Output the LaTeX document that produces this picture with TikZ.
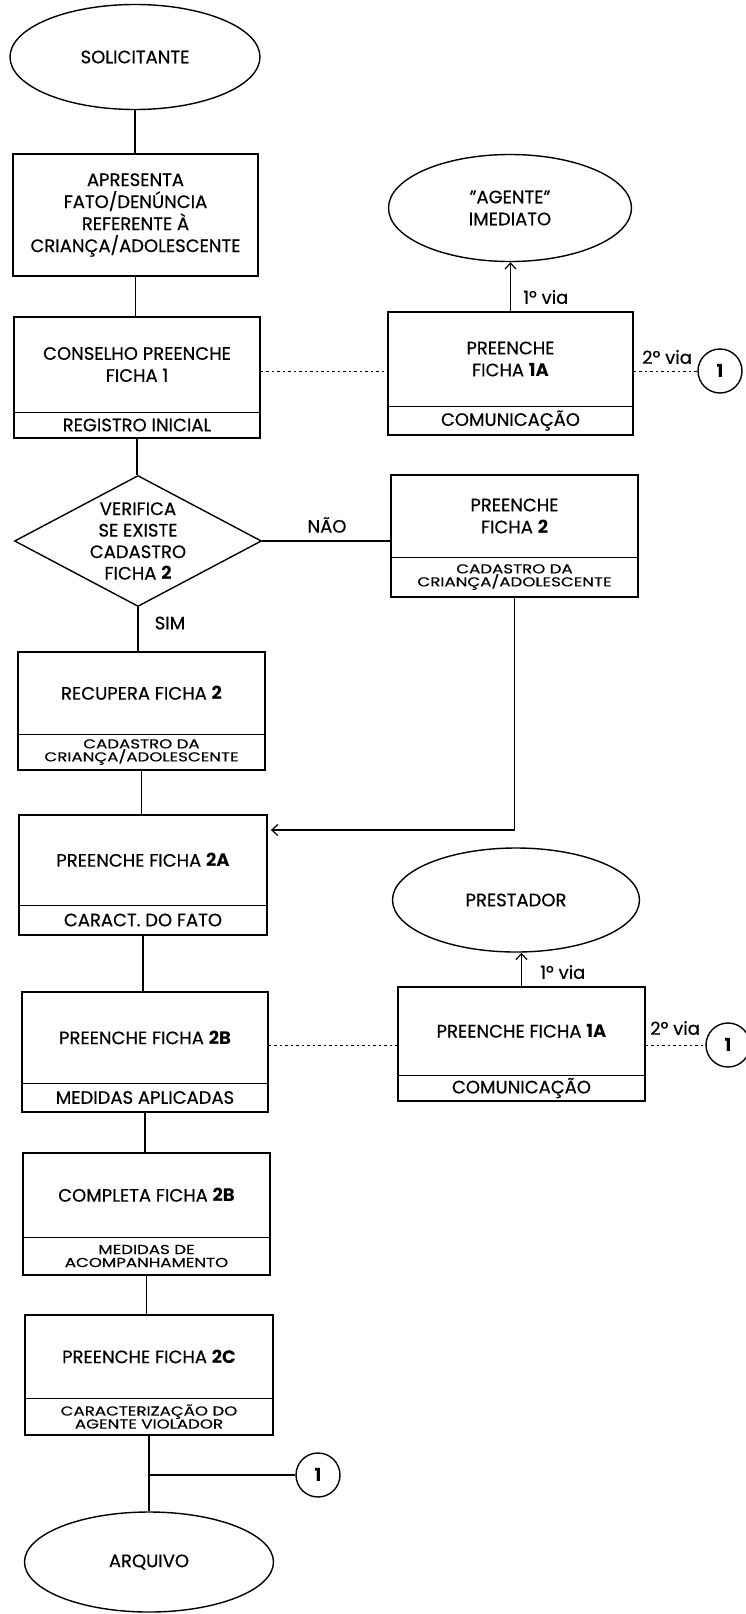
\documentclass[tikz,border=0pt]{standalone}
\usepackage{fontspec}
\setmainfont{Poppins}[UprightFeatures={FakeBold=0.5}]
\newfontfamily\widefont{Poppins}[FakeStretch=1.28,UprightFeatures={FakeBold=0.4}]
\usetikzlibrary{shapes.geometric,arrows.meta,calc}
\newcommand\mytxt{\rmfamily\fontsize{18}{22}\selectfont}
\newcommand\mysub{\widefont\fontsize{13}{13}\selectfont}
\newcommand\flowbox[8]{%
  \node[box,minimum width={#4-#2},minimum height={#5-#3}] (#1) at ({(#2+#4)/2},{(#3+#5)/2}) {};
  \draw[divline] (#1.west |- 0,#6) -- (#1.east |- 0,#6);
  \node[mtxt] (#1-t) at ({(#2+#4)/2},{(#3+#6)/2}) {#7};
  \node[stxt] (#1-s) at ({(#2+#4)/2},{(#6+#5)/2}) {#8};
}
\begin{document}
\begin{tikzpicture}[x=1pt,y=-1pt,
  box/.style={draw,line width=1.8pt,inner sep=0pt,rectangle},
  divline/.style={line width=0.9pt},
  conn/.style={line width=1.4pt},
  thinconn/.style={line width=1.1pt},
  dots/.style={line width=1pt,dash pattern=on 2.5pt off 3pt},
  term/.style={draw,ellipse,line width=1.4pt,inner sep=0pt,font=\mytxt,align=center},
  mtxt/.style={font=\mytxt,align=center,inner sep=0pt},
  stxt/.style={font=\mysub,align=center,inner sep=0pt},
  lbl/.style={font=\mytxt,inner sep=0pt},
  conc/.style={draw,circle,line width=1.4pt,minimum size=44pt,inner sep=0pt,font=\mytxt\bfseries},
  barb/.style={-{Straight Barb[length=6pt,width=11pt,line width=1.2pt]}}
]
\fill[white] (0,0) rectangle (746,1614);
\useasboundingbox (0,0) rectangle (746,1614);

% terminals
\node[term,minimum width=250pt,minimum height=105pt] (sol) at (135,57) {SOLICITANTE};
\node[term,minimum width=243pt,minimum height=107pt] (agente) at (510,208) {"AGENTE"\\IMEDIATO};
\node[term,minimum width=247pt,minimum height=104pt] (prest) at (516,900) {PRESTADOR};
\node[term,minimum width=249pt,minimum height=100pt] (arq) at (149,1562) {ARQUIVO};

% first box
\node[box,minimum width=245pt,minimum height=122pt] (apres) at (135.5,215) {};
\node[mtxt] (apres-t) at (135.5,215) {APRESENTA\\FATO/DENÚNCIA\\REFERENTE À\\CRIANÇA/ADOLESCENTE};

\flowbox{cons}{14}{317}{260}{438}{412}{CONSELHO PREENCHE\\FICHA 1}{\mytxt REGISTRO INICIAL}
\flowbox{fa}{388}{312}{633}{435}{406}{PREENCHE\\FICHA \textbf{1A}}{\mytxt COMUNICAÇÃO}

% decision
\node[draw,diamond,line width=1.4pt,minimum width=247pt,minimum height=131pt,inner sep=0pt] (dec) at (138,541) {};
\node[mtxt,font=\rmfamily\fontsize{18}{21.5}\selectfont] (dec-t) at (138,541) {VERIFICA\\SE EXISTE\\CADASTRO\\FICHA \textbf{2}};

\flowbox{ftwo}{391}{475}{638}{597}{557}{PREENCHE\\FICHA \textbf{2}}{CADASTRO DA\\CRIANÇA/ADOLESCENTE}
\flowbox{recup}{18}{652}{265}{770}{734}{RECUPERA FICHA \textbf{2}}{CADASTRO DA\\CRIANÇA/ADOLESCENTE}
\flowbox{ftwoa}{19}{815}{267}{935}{905}{PREENCHE FICHA \textbf{2A}}{\mytxt CARACT. DO FATO}
\flowbox{ftwob}{22}{992}{268}{1112}{1083}{PREENCHE FICHA \textbf{2B}}{\mytxt MEDIDAS APLICADAS}
\flowbox{fb}{398}{987}{645}{1101}{1075}{PREENCHE FICHA \textbf{1A}}{\mytxt COMUNICAÇÃO}
\flowbox{comp}{23}{1153}{270}{1275}{1237}{COMPLETA FICHA \textbf{2B}}{MEDIDAS DE\\ACOMPANHAMENTO}
\flowbox{ftwoc}{25}{1315}{273}{1435}{1398}{PREENCHE FICHA \textbf{2C}}{CARACTERIZAÇÃO DO\\AGENTE VIOLADOR}

% connectors (circles)
\node[conc] (c1) at (720,371) {1};
\node[conc] (c2) at (728,1045) {1};
\node[conc] (c3) at (318,1475) {1};

% main vertical chain
\draw[conn] (sol.south) -- (sol.south |- apres.north);
\draw[conn] (apres.south) -- (apres.south |- cons.north);
\draw[conn] (cons.south) -- (cons.south |- dec.north);
\draw[conn] (dec.south) -- (dec.south |- recup.north);
\draw[conn] (recup.south) -- (recup.south |- ftwoa.north);
\draw[conn] (ftwoa.south) -- (ftwoa.south |- ftwob.north);
\draw[conn] (ftwob.south) -- (ftwob.south |- comp.north);
\draw[conn] (comp.south) -- (comp.south |- ftwoc.north);
\draw[conn] (ftwoc.south) -- (ftwoc.south |- arq.north);
\coordinate (br) at (ftwoc.south |- c3);
\draw[conn] (br) -- (c3.west);

% decision branches
\draw[conn] (dec.east) -- (ftwo.west |- dec.east);
\node[lbl] (nao) at (327,525) {NÃO};
\node[lbl] (sim) at (170,623) {SIM};

% return from ficha 2
\coordinate (inA) at ([xshift=3pt]ftwoa.east |- 0,830);
\draw[thinconn,barb] (ftwo.south) -- (ftwo.south |- inA) -- (inA);

% upper right
\draw[conn,barb] (fa.north) -- (fa.north |- agente.south);
\node[lbl,anchor=west] (v1) at (523,297) {1º via};
\draw[dots] (cons.east |- c1) -- (fa.west |- c1);
\draw[dots] (fa.east |- c1) -- (c1.west);
\node[lbl,anchor=west] (v2) at (642,357) {2º via};

% lower right
\draw[conn,barb] (fb.north) -- (fb.north |- prest.south);
\node[lbl,anchor=west] (v3) at (540,972) {1º via};
\draw[dots] (ftwob.east |- c2) -- (fb.west |- c2);
\draw[dots] (fb.east |- c2) -- (c2.west);
\node[lbl,anchor=west] (v4) at (650,1028) {2º via};
\end{tikzpicture}
\end{document}
